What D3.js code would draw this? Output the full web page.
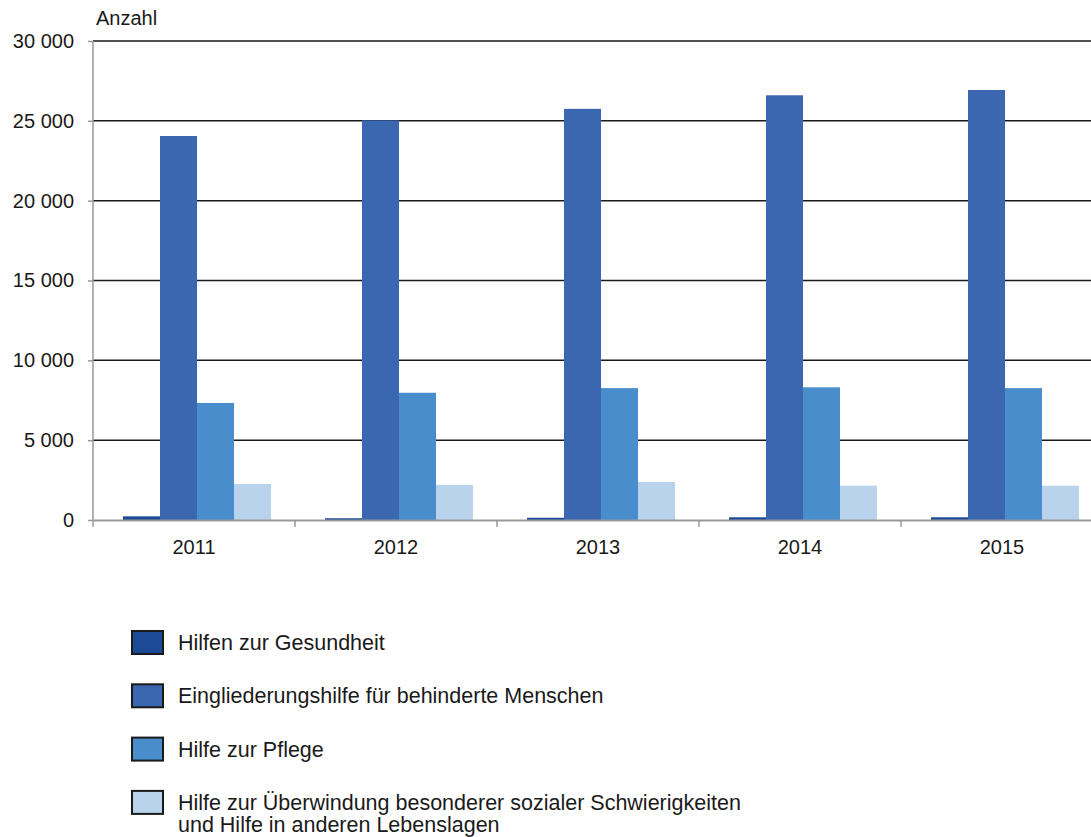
<!DOCTYPE html>
<meta charset="utf-8">
<style>
body { margin: 0; background: #fff; }
text { font-family: "Liberation Sans", Arial, sans-serif; fill: #1a1a1a; }
.grid line { stroke: #1a1a1a; stroke-width: 1.5; }
</style>
<body>
<script src="https://cdn.jsdelivr.net/npm/d3@7"></script>
<script>

// data
var years = ["2011", "2012", "2013", "2014", "2015"];
var seriesNames = [
  "Hilfen zur Gesundheit",
  "Eingliederungshilfe für behinderte Menschen",
  "Hilfe zur Pflege",
  "Hilfe zur Überwindung besonderer sozialer Schwierigkeiten\nund Hilfe in anderen Lebenslagen"
];
var gesundheit = [230, 110, 140, 170, 170];
var eingliederung = [24050, 25030, 25750, 26600, 26930];
var pflege = [7330, 7970, 8260, 8310, 8260];
var ueberwindung = [2260, 2200, 2380, 2150, 2150];
var yTicks = [0, 5000, 10000, 15000, 20000, 25000, 30000];
var colors = ["#1d4a96", "#3b66b0", "#4a8dcc", "#b9d3ec"];

var allSeries = [gesundheit, eingliederung, pflege, ueberwindung];

// plot area (the last band runs slightly past the right edge, as in the original)
var pLeft = 93, pRight = 1103, pTop = 41, pBottom = 520;

var svg = d3.select("body").append("svg")
    .attr("width", 1091)
    .attr("height", 837);

var x = d3.scaleBand().domain(years).range([pLeft, pRight]);
var x1 = d3.scaleBand().domain(d3.range(4)).range([30, 30 + 148]);
var y = d3.scaleLinear().domain([0, 30000]).range([pBottom, pTop]);

// gridlines
svg.append("g").attr("class", "grid")
  .selectAll("line")
  .data(yTicks.filter(function(d) { return d > 0; }))
  .enter().append("line")
    .attr("x1", pLeft).attr("x2", pRight)
    .attr("y1", function(d) { return y(d); })
    .attr("y2", function(d) { return y(d); });

// bars
var groups = svg.append("g").selectAll("g")
  .data(years)
  .enter().append("g")
    .attr("transform", function(d) { return "translate(" + x(d) + ",0)"; });

groups.selectAll("rect")
  .data(function(d, i) { return allSeries.map(function(s, j) { return {k: j, v: s[i]}; }); })
  .enter().append("rect")
    .attr("x", function(d) { return x1(d.k); })
    .attr("width", x1.bandwidth())
    .attr("y", function(d) { return y(d.v); })
    .attr("height", function(d) { return pBottom - y(d.v); })
    .attr("fill", function(d) { return colors[d.k]; });

// y axis
var yAxis = svg.append("g")
    .attr("transform", "translate(" + pLeft + ",0)")
    .call(d3.axisLeft(y).tickValues(yTicks).tickSize(5).tickPadding(14)
      .tickFormat(function(d) { return d3.format(",")(d).replace(/,/g, " "); }));
yAxis.select(".domain").attr("stroke", "#999").attr("stroke-width", 1.5)
  .attr("d", "M0," + pTop + "V" + pBottom);
yAxis.selectAll(".tick line").attr("stroke", "#999").attr("stroke-width", 1.5);
yAxis.selectAll("text").style("font-size", "20px").attr("fill", "#1a1a1a");

// x axis
var xAxis = svg.append("g")
    .attr("transform", "translate(0," + pBottom + ")")
    .call(d3.axisBottom(x).tickSize(0).tickPadding(20));
xAxis.select(".domain").attr("stroke", "#999").attr("stroke-width", 2);
xAxis.selectAll("text").style("font-size", "20px").attr("fill", "#1a1a1a");
xAxis.selectAll(".sep")
  .data(years.map(function(d) { return x(d); }))
  .enter().append("line")
    .attr("x1", function(d) { return d; }).attr("x2", function(d) { return d; })
    .attr("y1", 0).attr("y2", 7)
    .attr("stroke", "#999").attr("stroke-width", 1.5);

svg.append("text")
    .attr("x", 96).attr("y", 25)
    .style("font-size", "20px")
    .text("Anzahl");

// legend
var legend = svg.append("g").selectAll("g")
  .data(seriesNames)
  .enter().append("g")
    .attr("transform", function(d, i) { return "translate(132," + (631 + i * 53.3) + ")"; });

legend.append("rect")
    .attr("width", 31).attr("height", 23)
    .attr("fill", function(d, i) { return colors[i]; })
    .attr("stroke", "#1a1a1a").attr("stroke-width", 2);

legend.append("text")
    .attr("x", 46).attr("y", 19)
    .style("font-size", "21.5px")
    .selectAll("tspan")
    .data(function(d) { return d.split("\n"); })
    .enter().append("tspan")
      .attr("x", 46)
      .attr("dy", function(d, i) { return i ? 22 : 0; })
      .text(function(d) { return d; });

</script>
</body>
